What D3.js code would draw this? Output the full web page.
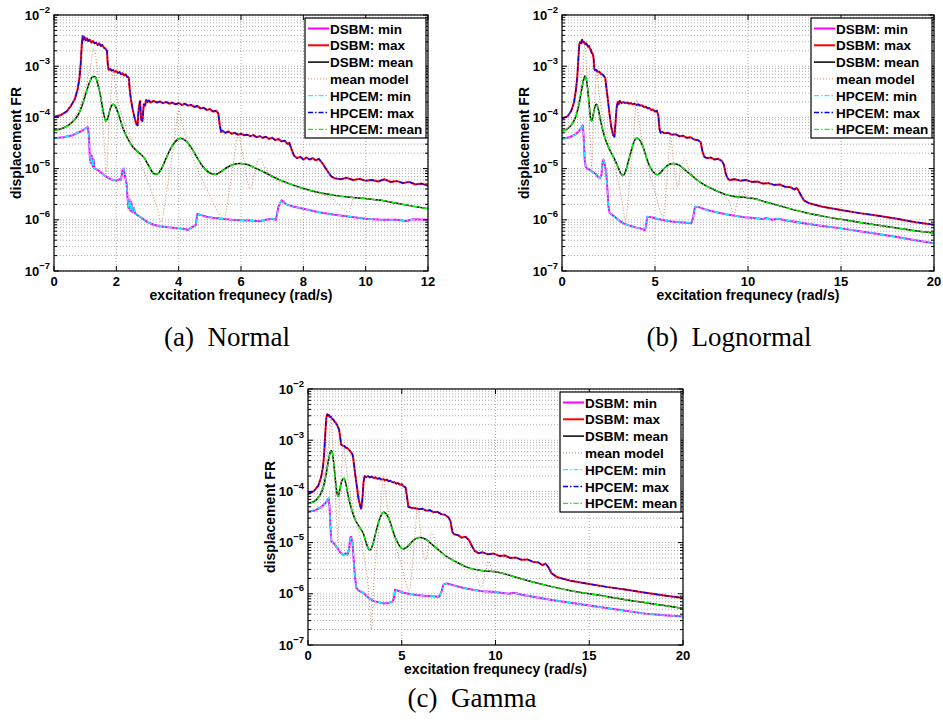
<!DOCTYPE html>
<html>
<head>
<meta charset="utf-8">
<title>Displacement FR: DSBM vs HPCEM</title>
<script src="https://d3js.org/d3.v7.min.js"></script>
<style>
  body { margin: 0; background: #fff; }
  svg text { font-family: "Liberation Sans", Arial, sans-serif; font-weight: bold; fill: #000; }
  svg text.caption { font-family: "Liberation Serif", "Times New Roman", serif; font-weight: normal; }
</style>
</head>
<body>
<svg id="fig" width="943" height="725"></svg>
<script>
// ---- data: [frequency (rad/s), displacement FR] ----
var legendLabels = ["DSBM: min", "DSBM: max", "DSBM: mean", "mean model", "HPCEM: min", "HPCEM: max", "HPCEM: mean"];
var yTickExp = [-7, -6, -5, -4, -3, -2];

// (a) Normal
var normalMin = [[0,3.9e-5],[0.3,4.1e-5],[0.6,4.5e-5],[0.85,5.3e-5],[1.0,6.0e-5],[1.08,6.5e-5],[1.12,4.5e-5],[1.15,1.6e-5],[1.18,1.3e-5],[1.21,1.8e-5],[1.24,1.1e-5],[1.27,1.5e-5],[1.3,1.0e-5],[1.4,9.5e-6],[1.5,8.5e-6],[1.6,7.5e-6],[1.7,6.8e-6],[1.8,6.3e-6],[1.9,6.0e-6],[2.0,5.8e-6],[2.1,6.2e-6],[2.15,6.0e-6],[2.2,9.5e-6],[2.24,1.0e-5],[2.28,7e-6],[2.33,5e-6],[2.36,2.6e-6],[2.39,1.7e-6],[2.42,2.5e-6],[2.45,1.5e-6],[2.48,2.2e-6],[2.52,1.4e-6],[2.56,1.7e-6],[2.6,1.35e-6],[2.7,1.2e-6],[2.8,1.1e-6],[2.9,1.0e-6],[3.0,9.0e-7],[3.2,8.0e-7],[3.4,7.5e-7],[3.6,7.2e-7],[3.8,7.0e-7],[4.0,6.8e-7],[4.2,6.6e-7],[4.3,6.3e-7],[4.4,7.0e-7],[4.5,7.5e-7],[4.55,8e-7],[4.6,1.3e-6],[4.7,1.25e-6],[4.9,1.15e-6],[5.1,1.1e-6],[5.4,1.05e-6],[5.7,1.0e-6],[6.0,9.8e-7],[6.3,9.7e-7],[6.6,9.4e-7],[6.8,1.0e-6],[7.0,1.05e-6],[7.12,1.0e-6],[7.2,1.8e-6],[7.3,2.4e-6],[7.45,2.0e-6],[7.7,1.8e-6],[8.0,1.65e-6],[8.5,1.4e-6],[9.0,1.25e-6],[9.5,1.15e-6],[10.0,1.05e-6],[10.5,1.0e-6],[11.0,1.0e-6],[11.3,9.5e-7],[11.5,1.02e-6],[12.0,1.0e-6]];
var normalMax = [[0,1.02e-4],[0.2,1.1e-4],[0.4,1.3e-4],[0.55,1.7e-4],[0.67,2.3e-4],[0.76,3.6e-4],[0.82,6e-4],[0.86,1.2e-3],[0.89,2.6e-3],[0.92,3.9e-3],[0.95,3.3e-3],[0.98,3.7e-3],[1.02,3.2e-3],[1.06,3.5e-3],[1.1,3.1e-3],[1.15,3.3e-3],[1.2,2.9e-3],[1.25,3.1e-3],[1.3,2.8e-3],[1.35,2.9e-3],[1.4,2.6e-3],[1.45,2.8e-3],[1.5,2.5e-3],[1.55,2.6e-3],[1.6,2.3e-3],[1.65,2.2e-3],[1.7,2.0e-3],[1.72,1.2e-3],[1.75,8.5e-4],[1.8,8.8e-4],[1.85,8.2e-4],[1.9,8.4e-4],[1.95,7.8e-4],[2.0,8.0e-4],[2.05,7.4e-4],[2.1,7.7e-4],[2.15,7.0e-4],[2.2,7.3e-4],[2.25,6.6e-4],[2.3,6.9e-4],[2.35,6.2e-4],[2.4,6.0e-4],[2.43,3.5e-4],[2.47,2.2e-4],[2.52,1.5e-4],[2.58,1.0e-4],[2.64,7.5e-5],[2.68,7e-5],[2.72,1.5e-4],[2.76,2.1e-4],[2.8,9e-5],[2.84,8.5e-5],[2.88,1.8e-4],[2.92,1.7e-4],[2.96,2.2e-4],[3.0,2.0e-4],[3.05,2.15e-4],[3.1,1.95e-4],[3.2,2.1e-4],[3.3,1.95e-4],[3.4,2.05e-4],[3.5,1.9e-4],[3.6,2.0e-4],[3.7,1.85e-4],[3.8,1.95e-4],[3.9,1.8e-4],[4.0,1.9e-4],[4.1,1.75e-4],[4.2,1.85e-4],[4.3,1.7e-4],[4.4,1.75e-4],[4.5,1.6e-4],[4.6,1.68e-4],[4.7,1.5e-4],[4.8,1.55e-4],[4.9,1.4e-4],[5.0,1.45e-4],[5.1,1.3e-4],[5.2,1.35e-4],[5.27,1.2e-4],[5.32,7e-5],[5.36,5.2e-5],[5.4,5.5e-5],[5.5,5.0e-5],[5.6,5.3e-5],[5.7,4.8e-5],[5.8,5.0e-5],[5.9,4.6e-5],[6.0,4.8e-5],[6.1,4.5e-5],[6.2,4.6e-5],[6.3,4.3e-5],[6.4,4.5e-5],[6.5,4.1e-5],[6.6,4.3e-5],[6.7,4.0e-5],[6.8,4.2e-5],[6.9,3.8e-5],[7.0,4.0e-5],[7.1,3.6e-5],[7.2,3.8e-5],[7.3,3.4e-5],[7.4,3.5e-5],[7.5,3.0e-5],[7.55,3.2e-5],[7.62,2.4e-5],[7.7,1.8e-5],[7.8,1.6e-5],[7.9,1.7e-5],[8.0,1.5e-5],[8.1,1.65e-5],[8.2,1.5e-5],[8.3,1.6e-5],[8.4,1.45e-5],[8.5,1.55e-5],[8.6,1.3e-5],[8.7,1.05e-5],[8.8,8.5e-6],[8.9,7e-6],[9.0,6.5e-6],[9.2,6.2e-6],[9.4,6.6e-6],[9.6,6.0e-6],[9.8,6.3e-6],[10.0,5.8e-6],[10.2,6.0e-6],[10.4,5.6e-6],[10.6,6.2e-6],[10.8,5.5e-6],[11.0,5.7e-6],[11.2,5.2e-6],[11.4,5.5e-6],[11.6,4.9e-6],[11.8,5.1e-6],[12.0,4.6e-6]];
var normalMean = [[0,5.6e-5],[0.3,6.2e-5],[0.6,8.2e-5],[0.8,1.2e-4],[0.95,2.1e-4],[1.05,3.3e-4],[1.15,5.0e-4],[1.25,6.3e-4],[1.32,6.2e-4],[1.4,4.6e-4],[1.5,2.5e-4],[1.58,1.3e-4],[1.66,8.5e-5],[1.72,9.5e-5],[1.8,1.45e-4],[1.9,1.8e-4],[1.98,1.6e-4],[2.08,1.1e-4],[2.2,6.5e-5],[2.35,4.0e-5],[2.5,2.8e-5],[2.7,2.1e-5],[2.9,1.6e-5],[3.05,1.1e-5],[3.2,8.0e-6],[3.3,7.8e-6],[3.45,1.0e-5],[3.6,1.6e-5],[3.75,2.5e-5],[3.9,3.4e-5],[4.05,3.9e-5],[4.2,3.6e-5],[4.4,2.6e-5],[4.6,1.6e-5],[4.8,1.05e-5],[5.0,8.2e-6],[5.18,7.7e-6],[5.35,8.6e-6],[5.55,1.05e-5],[5.75,1.2e-5],[5.95,1.26e-5],[6.2,1.2e-5],[6.5,1.0e-5],[6.8,8.2e-6],[7.1,6.6e-6],[7.5,5.2e-6],[8.0,4.1e-6],[8.5,3.4e-6],[9.0,3.0e-6],[9.5,2.75e-6],[10.0,2.6e-6],[10.5,2.4e-6],[11.0,2.1e-6],[11.5,1.85e-6],[12.0,1.65e-6]];
var normalModel = [[0,5.5e-5],[0.5,7.5e-5],[0.8,1.5e-4],[1.0,3.5e-4],[1.15,9e-4],[1.28,2.2e-3],[1.4,8e-4],[1.5,2e-4],[1.6,4e-5],[1.68,8e-6],[1.75,5e-5],[1.82,2.5e-4],[1.9,8e-4],[2.0,3e-4],[2.2,1e-4],[2.5,3.5e-5],[2.8,1.2e-5],[3.1,4e-6],[3.3,1.8e-6],[3.45,9e-7],[3.55,2e-6],[3.7,8e-6],[3.85,3e-5],[4.0,1.4e-4],[4.1,8e-5],[4.3,3e-5],[4.6,1e-5],[5.0,3e-6],[5.3,1.3e-6],[5.45,1.0e-6],[5.6,3e-6],[5.75,1.2e-5],[5.9,4.5e-5],[6.05,2e-5],[6.2,6e-6],[6.3,4e-6],[6.45,9e-6],[6.6,1.6e-5],[6.75,1.1e-5],[7.0,6.5e-6],[7.5,5e-6],[8.0,4e-6],[8.5,3.3e-6],[9.0,2.4e-6],[9.3,1.6e-6],[9.45,1.4e-6],[9.6,2.6e-6],[9.8,2.7e-6],[10.0,2.6e-6],[10.5,2.4e-6],[11.0,2.1e-6],[11.5,1.85e-6],[12.0,1.65e-6]];

// (b) Lognormal
var lognormalMin = [[0,3.8e-5],[0.4,4.1e-5],[0.7,4.6e-5],[0.9,5.4e-5],[1.05,6.3e-5],[1.12,7e-5],[1.17,4e-5],[1.22,1.5e-5],[1.27,1.1e-5],[1.35,1.0e-5],[1.5,9.5e-6],[1.65,8.5e-6],[1.8,8e-6],[1.95,6.8e-6],[2.05,6.5e-6],[2.12,7.5e-6],[2.18,1.35e-5],[2.23,1.5e-5],[2.3,1.2e-5],[2.38,8e-6],[2.44,4e-6],[2.5,1.8e-6],[2.56,1.35e-6],[2.7,1.25e-6],[2.9,1.1e-6],[3.1,9.5e-7],[3.3,8.5e-7],[3.6,7.8e-7],[3.9,7.2e-7],[4.2,6.8e-7],[4.45,6.3e-7],[4.52,7.5e-7],[4.58,1.15e-6],[4.8,1.12e-6],[5.1,1.05e-6],[5.5,9.8e-7],[5.9,9.3e-7],[6.3,9.0e-7],[6.7,8.8e-7],[6.95,8.6e-7],[7.05,1.1e-6],[7.15,1.8e-6],[7.4,1.75e-6],[7.8,1.55e-6],[8.3,1.4e-6],[8.8,1.28e-6],[9.3,1.2e-6],[9.8,1.12e-6],[10.3,1.08e-6],[10.8,1.04e-6],[11.0,1.08e-6],[11.3,1.0e-6],[11.6,1.05e-6],[12,9.8e-7],[13,8.6e-7],[14,7.6e-7],[15,6.8e-7],[16,6e-7],[17,5.3e-7],[18,4.6e-7],[19,4.0e-7],[20,3.5e-7]];
var lognormalMax = [[0,9.5e-5],[0.3,1.05e-4],[0.5,1.35e-4],[0.65,2e-4],[0.75,3.5e-4],[0.82,6e-4],[0.88,1.4e-3],[0.93,2.7e-3],[0.98,3.0e-3],[1.03,2.8e-3],[1.08,3.3e-3],[1.13,2.9e-3],[1.18,3.0e-3],[1.25,2.7e-3],[1.3,2.8e-3],[1.4,2.4e-3],[1.45,2.5e-3],[1.5,2.2e-3],[1.55,2.1e-3],[1.6,1.8e-3],[1.65,1.8e-3],[1.7,1.4e-3],[1.73,9e-4],[1.78,8.3e-4],[1.85,8.5e-4],[1.9,7.8e-4],[2.0,7.8e-4],[2.1,7.0e-4],[2.2,6.8e-4],[2.28,6.2e-4],[2.33,5.8e-4],[2.38,4e-4],[2.45,2.5e-4],[2.55,1.2e-4],[2.65,6.5e-5],[2.75,4.5e-5],[2.82,4.2e-5],[2.88,8e-5],[2.94,1.6e-4],[3.0,2.0e-4],[3.05,1.8e-4],[3.1,2.1e-4],[3.2,1.9e-4],[3.3,2.0e-4],[3.4,1.9e-4],[3.5,1.95e-4],[3.6,1.85e-4],[3.7,1.9e-4],[3.8,1.8e-4],[3.9,1.85e-4],[4.0,1.75e-4],[4.1,1.8e-4],[4.2,1.7e-4],[4.3,1.72e-4],[4.4,1.6e-4],[4.5,1.62e-4],[4.6,1.5e-4],[4.7,1.52e-4],[4.8,1.4e-4],[4.9,1.42e-4],[5.0,1.3e-4],[5.1,1.35e-4],[5.18,1.1e-4],[5.24,6e-5],[5.3,5e-5],[5.4,5.2e-5],[5.5,4.9e-5],[5.7,5.0e-5],[5.9,4.6e-5],[6.1,4.7e-5],[6.3,4.3e-5],[6.5,4.4e-5],[6.7,4.0e-5],[6.9,4.1e-5],[7.1,3.7e-5],[7.3,3.6e-5],[7.45,3.3e-5],[7.55,2.2e-5],[7.65,1.7e-5],[7.8,1.6e-5],[8.0,1.65e-5],[8.2,1.5e-5],[8.4,1.55e-5],[8.6,1.4e-5],[8.7,1.2e-5],[8.8,8e-6],[8.9,6.5e-6],[9.0,6.0e-6],[9.3,6.2e-6],[9.6,5.8e-6],[9.9,6.0e-6],[10.2,5.5e-6],[10.5,5.6e-6],[10.8,5.1e-6],[11.1,5.2e-6],[11.4,4.8e-6],[11.7,4.9e-6],[12.0,4.4e-6],[12.3,4.3e-6],[12.5,3.9e-6],[12.6,4.2e-6],[12.7,3.8e-6],[12.85,3.0e-6],[13.0,2.4e-6],[13.3,2.1e-6],[14.0,1.8e-6],[15.0,1.55e-6],[16.0,1.35e-6],[17.0,1.2e-6],[18.0,1.05e-6],[19.0,9e-7],[20.0,8e-7]];
var lognormalMean = [[0,5.4e-5],[0.3,6e-5],[0.6,8e-5],[0.8,1.2e-4],[0.95,2.1e-4],[1.05,3.4e-4],[1.15,5.2e-4],[1.23,6.4e-4],[1.3,5.8e-4],[1.38,3.6e-4],[1.46,1.8e-4],[1.53,1.0e-4],[1.6,8.5e-5],[1.68,1.15e-4],[1.78,1.65e-4],[1.86,1.8e-4],[1.95,1.45e-4],[2.05,9.5e-5],[2.2,5.5e-5],[2.4,3.2e-5],[2.6,2.2e-5],[2.8,1.6e-5],[3.0,1.1e-5],[3.15,8.2e-6],[3.28,7.3e-6],[3.4,8.5e-6],[3.55,1.3e-5],[3.7,2.1e-5],[3.85,3.2e-5],[4.0,3.9e-5],[4.15,3.7e-5],[4.35,2.7e-5],[4.55,1.6e-5],[4.75,1.05e-5],[4.95,8.3e-6],[5.12,7.6e-6],[5.3,8.4e-6],[5.5,1.02e-5],[5.75,1.2e-5],[6.0,1.26e-5],[6.3,1.17e-5],[6.6,9.5e-6],[7.0,7.2e-6],[7.4,5.5e-6],[7.8,4.5e-6],[8.3,3.7e-6],[8.8,3.1e-6],[9.3,2.85e-6],[9.8,2.75e-6],[10.3,2.6e-6],[11,2.2e-6],[12,1.75e-6],[13,1.4e-6],[14,1.18e-6],[15,1.02e-6],[16,8.9e-7],[17,7.8e-7],[18,6.9e-7],[19,6.1e-7],[20,5.5e-7]];
var lognormalModel = [[0,5.3e-5],[0.5,7.5e-5],[0.8,1.5e-4],[1.0,4e-4],[1.12,1e-3],[1.23,2.6e-3],[1.32,1e-3],[1.42,2e-4],[1.52,4e-5],[1.6,1e-5],[1.68,6e-5],[1.78,3e-4],[1.87,8.5e-4],[1.97,3.5e-4],[2.2,1e-4],[2.5,3.5e-5],[2.8,1.3e-5],[3.1,4e-6],[3.3,1.6e-6],[3.42,9e-7],[3.55,2.5e-6],[3.7,1e-5],[3.85,4e-5],[4.0,2.2e-4],[4.12,9e-5],[4.35,3e-5],[4.7,8e-6],[5.0,3.5e-6],[5.3,1.4e-6],[5.45,1.1e-6],[5.6,4e-6],[5.72,1.5e-5],[5.82,4.5e-5],[5.95,2e-5],[6.1,7e-6],[6.22,4.5e-6],[6.4,1e-5],[6.6,1.6e-5],[6.8,1.05e-5],[7.1,7e-6],[7.5,5.2e-6],[8.0,4.2e-6],[8.5,3.4e-6],[9.0,2.2e-6],[9.25,1.35e-6],[9.45,2.4e-6],[9.65,4.2e-6],[9.85,3e-6],[10.3,2.6e-6],[11,2.2e-6],[12,1.75e-6],[13,1.4e-6],[14,1.18e-6],[15,1.02e-6],[16,8.9e-7],[17,7.8e-7],[18,6.9e-7],[19,6.1e-7],[20,5.5e-7]];

// (c) Gamma
var gammaMin = [[0,4e-5],[0.4,4.3e-5],[0.7,4.9e-5],[0.95,6e-5],[1.1,7.3e-5],[1.15,5e-5],[1.2,2e-5],[1.25,1.05e-5],[1.35,1.0e-5],[1.5,8.5e-6],[1.65,7e-6],[1.8,6e-6],[1.9,5.7e-6],[2.0,6.2e-6],[2.1,5.8e-6],[2.18,7e-6],[2.25,1.2e-5],[2.3,1.3e-5],[2.37,1.0e-5],[2.43,5e-6],[2.5,2.2e-6],[2.58,1.3e-6],[2.7,1.15e-6],[2.95,1.05e-6],[3.2,8.5e-7],[3.5,7.2e-7],[3.8,6.8e-7],[4.0,6.5e-7],[4.3,6.6e-7],[4.5,7e-7],[4.58,8e-7],[4.64,1.2e-6],[4.8,1.15e-6],[5.1,1.05e-6],[5.5,9.8e-7],[5.8,9.5e-7],[6.2,9.2e-7],[6.6,9e-7],[7.0,8.8e-7],[7.12,1.1e-6],[7.22,1.5e-6],[7.4,1.6e-6],[7.8,1.45e-6],[8.3,1.3e-6],[8.8,1.2e-6],[9.3,1.12e-6],[9.8,1.1e-6],[10.3,1.05e-6],[10.7,1.0e-6],[11.0,1.05e-6],[11.4,9.6e-7],[12,8.8e-7],[13,7.6e-7],[14,6.7e-7],[15,5.9e-7],[16,5.2e-7],[17,4.6e-7],[18,4.1e-7],[19,3.8e-7],[20,3.6e-7]];
var gammaMax = [[0,9.1e-5],[0.3,1.0e-4],[0.55,1.3e-4],[0.7,1.9e-4],[0.8,3e-4],[0.87,6e-4],[0.93,1.5e-3],[0.98,2.8e-3],[1.02,3.2e-3],[1.07,3.0e-3],[1.12,3.1e-3],[1.17,2.8e-3],[1.22,2.9e-3],[1.3,2.6e-3],[1.36,2.5e-3],[1.42,2.3e-3],[1.48,2.2e-3],[1.54,2.0e-3],[1.6,1.8e-3],[1.66,1.6e-3],[1.72,1.1e-3],[1.77,8.2e-4],[1.85,7.8e-4],[1.92,7.8e-4],[2.0,7.2e-4],[2.1,7.0e-4],[2.2,6.4e-4],[2.3,5.8e-4],[2.38,5.2e-4],[2.42,4.2e-4],[2.5,2.4e-4],[2.6,1.3e-4],[2.7,7e-5],[2.8,5e-5],[2.84,4.6e-5],[2.9,7e-5],[2.96,1.5e-4],[3.02,2.0e-4],[3.1,1.9e-4],[3.2,2.0e-4],[3.3,1.88e-4],[3.4,1.95e-4],[3.5,1.82e-4],[3.6,1.88e-4],[3.7,1.76e-4],[3.8,1.82e-4],[3.9,1.7e-4],[4.0,1.75e-4],[4.1,1.65e-4],[4.2,1.7e-4],[4.3,1.58e-4],[4.4,1.62e-4],[4.5,1.5e-4],[4.6,1.52e-4],[4.7,1.42e-4],[4.8,1.45e-4],[4.9,1.35e-4],[5.0,1.38e-4],[5.1,1.25e-4],[5.2,1.2e-4],[5.28,8e-5],[5.35,5e-5],[5.5,4.8e-5],[5.7,4.7e-5],[5.9,4.5e-5],[6.1,4.6e-5],[6.3,4.2e-5],[6.5,4.3e-5],[6.7,3.9e-5],[6.9,4.0e-5],[7.1,3.6e-5],[7.3,3.5e-5],[7.5,3.1e-5],[7.6,2.6e-5],[7.7,1.6e-5],[7.8,1.45e-5],[8.0,1.4e-5],[8.2,1.25e-5],[8.4,1.3e-5],[8.6,1.1e-5],[8.75,8.5e-6],[8.9,6.8e-6],[9.1,6.2e-6],[9.3,6.5e-6],[9.6,5.9e-6],[9.9,6.1e-6],[10.2,5.5e-6],[10.5,5.6e-6],[10.8,5.0e-6],[11.1,5.1e-6],[11.4,4.6e-6],[11.7,4.7e-6],[12.0,4.2e-6],[12.3,4.1e-6],[12.5,3.6e-6],[12.65,3.9e-6],[12.8,3.4e-6],[13.0,2.5e-6],[13.3,2.1e-6],[14,1.8e-6],[15,1.55e-6],[16,1.35e-6],[17,1.2e-6],[18,1.05e-6],[19,9.3e-7],[20,8.3e-7]];
var gammaMean = [[0,5.8e-5],[0.3,6.3e-5],[0.6,8e-5],[0.8,1.15e-4],[0.95,2e-4],[1.05,3.3e-4],[1.15,5.2e-4],[1.23,6.3e-4],[1.3,5.6e-4],[1.38,3.4e-4],[1.46,1.7e-4],[1.54,9.5e-5],[1.62,8e-5],[1.7,1.1e-4],[1.8,1.6e-4],[1.92,1.8e-4],[2.02,1.4e-4],[2.15,8e-5],[2.3,4.8e-5],[2.5,2.9e-5],[2.75,2e-5],[2.95,1.5e-5],[3.1,1.0e-5],[3.22,7.6e-6],[3.32,7.2e-6],[3.45,9e-6],[3.6,1.5e-5],[3.75,2.4e-5],[3.9,3.4e-5],[4.02,3.9e-5],[4.15,3.7e-5],[4.35,2.7e-5],[4.55,1.6e-5],[4.75,1.05e-5],[4.95,8e-6],[5.1,7.5e-6],[5.3,8.3e-6],[5.5,1.0e-5],[5.75,1.2e-5],[5.97,1.26e-5],[6.3,1.15e-5],[6.6,9.3e-6],[7.0,7e-6],[7.4,5.3e-6],[7.9,4.2e-6],[8.4,3.4e-6],[8.9,3.0e-6],[9.4,2.8e-6],[10.0,2.7e-6],[10.5,2.45e-6],[11,2.15e-6],[12,1.7e-6],[13,1.38e-6],[14,1.15e-6],[15,1.0e-6],[16,8.8e-7],[17,7.6e-7],[18,6.7e-7],[19,5.9e-7],[20,5.2e-7]];
var gammaModel = [[0,5.7e-5],[0.5,7.7e-5],[0.8,1.5e-4],[1.0,4e-4],[1.12,1e-3],[1.22,2.8e-3],[1.3,1.2e-3],[1.4,2.5e-4],[1.5,5e-5],[1.6,1e-5],[1.68,6e-5],[1.8,3e-4],[1.92,8e-4],[2.02,3.5e-4],[2.2,1.1e-4],[2.5,3.5e-5],[2.8,1.2e-5],[3.05,4e-6],[3.25,1e-6],[3.38,2e-7],[3.5,1.5e-6],[3.7,1e-5],[3.88,5e-5],[4.02,2e-4],[4.15,8e-5],[4.4,2.5e-5],[4.7,8e-6],[5.0,3.5e-6],[5.25,1.5e-6],[5.4,1.1e-6],[5.55,3e-6],[5.7,1.4e-5],[5.85,5e-5],[5.98,2e-5],[6.15,6e-6],[6.28,4.5e-6],[6.45,1e-5],[6.62,1.6e-5],[6.8,1e-5],[7.1,6.8e-6],[7.5,5e-6],[8,4e-6],[8.5,3.3e-6],[9.0,2.2e-6],[9.25,1.3e-6],[9.45,2.5e-6],[9.62,4.3e-6],[9.85,2.9e-6],[10.3,2.55e-6],[11,2.15e-6],[12,1.7e-6],[13,1.38e-6],[14,1.15e-6],[15,1.0e-6],[16,8.8e-7],[17,7.6e-7],[18,6.7e-7],[19,5.9e-7],[20,5.2e-7]];

// ---- styles and layout ----
var seriesStyle = [
  {color: "#ff00ff", dash: null, width: 2},
  {color: "#ff0000", dash: null, width: 2},
  {color: "#000000", dash: null, width: 1.5},
  {color: "#c98a6c", dash: "1,2", width: 1},
  {color: "#00ffff", dash: "5,2,1.5,2", width: 1.3},
  {color: "#0000ff", dash: "5,2,1.5,2", width: 1.3},
  {color: "#00ff00", dash: "5,2,1.5,2", width: 1.3}
];

var panels = [
  {id: "a", left: 54, top: 15, width: 374, height: 256, xMax: 12, xTicks: [0, 2, 4, 6, 8, 10, 12],
   // HPCEM curves lie on top of the DSBM ones in the figure
   series: [normalMin, normalMax, normalMean, normalModel, normalMin, normalMax, normalMean],
   caption: "(a)\u2002Normal", capX: 227, capY: 346},
  {id: "b", left: 562, top: 15, width: 372, height: 256, xMax: 20, xTicks: [0, 5, 10, 15, 20],
   series: [lognormalMin, lognormalMax, lognormalMean, lognormalModel, lognormalMin, lognormalMax, lognormalMean],
   caption: "(b)\u2002Lognormal", capX: 729, capY: 346},
  {id: "c", left: 308, top: 389, width: 375, height: 256, xMax: 20, xTicks: [0, 5, 10, 15, 20],
   series: [gammaMin, gammaMax, gammaMean, gammaModel, gammaMin, gammaMax, gammaMean],
   caption: "(c)\u2002Gamma", capX: 472, capY: 707}
];

var svg = d3.select("#fig");

panels.forEach(function (p) {
  var x = d3.scaleLinear().domain([0, p.xMax]).range([p.left, p.left + p.width]);
  var y = d3.scaleLog().domain([1e-7, 1e-2]).range([p.top + p.height, p.top]);
  var g = svg.append("g").attr("class", "panel-" + p.id);

  g.append("clipPath").attr("id", "clip-" + p.id)
    .append("rect").attr("x", p.left).attr("y", p.top).attr("width", p.width).attr("height", p.height);

  // grid
  var grid = g.append("g").attr("stroke", "#9a9a9a").attr("stroke-width", 0.8).attr("stroke-dasharray", "1,2");
  grid.selectAll("line.vx").data(p.xTicks).enter().append("line")
    .attr("x1", function (d) { return x(d); }).attr("x2", function (d) { return x(d); })
    .attr("y1", p.top).attr("y2", p.top + p.height);
  grid.selectAll("line.hy").data(y.ticks()).enter().append("line")
    .attr("x1", p.left).attr("x2", p.left + p.width)
    .attr("y1", function (d) { return y(d); }).attr("y2", function (d) { return y(d); });

  // curves
  var plot = g.append("g").attr("clip-path", "url(#clip-" + p.id + ")");
  p.series.forEach(function (s, i) {
    var st = seriesStyle[i];
    var smooth = (i === 2 || i === 3 || i === 6);
    var line = d3.line()
      .x(function (d) { return x(d[0]); })
      .y(function (d) { return y(d[1]); })
      .curve(smooth ? d3.curveMonotoneX : d3.curveLinear);
    plot.append("path")
      .datum(s)
      .attr("d", line)
      .attr("fill", "none")
      .attr("stroke", st.color)
      .attr("stroke-width", st.width)
      .attr("stroke-linejoin", "round")
      .attr("stroke-dasharray", st.dash);
  });

  // box
  g.append("rect").attr("x", p.left).attr("y", p.top).attr("width", p.width).attr("height", p.height)
    .attr("fill", "none").attr("stroke", "#000").attr("stroke-width", 1.2);

  // ticks (inside, both sides)
  var ticks = g.append("g").attr("stroke", "#000").attr("stroke-width", 1);
  p.xTicks.forEach(function (t) {
    ticks.append("line").attr("x1", x(t)).attr("x2", x(t)).attr("y1", p.top + p.height).attr("y2", p.top + p.height - 5);
    ticks.append("line").attr("x1", x(t)).attr("x2", x(t)).attr("y1", p.top).attr("y2", p.top + 5);
  });
  y.ticks().forEach(function (t) {
    var major = Math.abs(Math.log10(t) - Math.round(Math.log10(t))) < 1e-6;
    var len = major ? 5 : 3;
    ticks.append("line").attr("x1", p.left).attr("x2", p.left + len).attr("y1", y(t)).attr("y2", y(t));
    ticks.append("line").attr("x1", p.left + p.width).attr("x2", p.left + p.width - len).attr("y1", y(t)).attr("y2", y(t));
  });

  // tick labels
  g.selectAll("text.xt").data(p.xTicks).enter().append("text")
    .attr("x", function (d) { return x(d); })
    .attr("y", p.top + p.height + 14.5)
    .attr("text-anchor", "middle")
    .attr("font-size", 13)
    .text(function (d) { return d; });

  yTickExp.forEach(function (e) {
    var t = g.append("text")
      .attr("x", p.left - 4)
      .attr("y", y(Math.pow(10, e)) + 4.5)
      .attr("text-anchor", "end")
      .attr("font-size", 13);
    t.append("tspan").text("10");
    t.append("tspan").attr("font-size", 9.5).attr("dy", -7).text("\u2212" + Math.abs(e));
  });

  // axis labels
  g.append("text")
    .attr("x", p.left + p.width / 2)
    .attr("y", p.top + p.height + 29)
    .attr("text-anchor", "middle")
    .attr("font-size", 14)
    .text("excitation frequnecy (rad/s)");
  g.append("text")
    .attr("transform", "translate(" + (p.left - 33) + "," + (p.top + p.height / 2) + ") rotate(-90)")
    .attr("text-anchor", "middle")
    .attr("font-size", 14)
    .text("displacement FR");

  // legend
  var lw = 121, lh = 120;
  var lx = p.left + p.width - 2 - lw, ly = p.top + 3;
  var leg = g.append("g");
  leg.append("rect").attr("x", lx).attr("y", ly).attr("width", lw).attr("height", lh)
    .attr("fill", "#fff").attr("stroke", "#000").attr("stroke-width", 1.2);
  legendLabels.forEach(function (lab, i) {
    var st = seriesStyle[i];
    var cy = ly + 10.5 + i * 16.8;
    leg.append("line").attr("x1", lx + 3).attr("x2", lx + 24).attr("y1", cy).attr("y2", cy)
      .attr("stroke", st.color).attr("stroke-width", st.width).attr("stroke-dasharray", st.dash);
    leg.append("text").attr("x", lx + 25).attr("y", cy + 5).attr("font-size", 13.5).text(lab);
  });

  // caption
  svg.append("text").attr("class", "caption")
    .attr("x", p.capX).attr("y", p.capY)
    .attr("text-anchor", "middle")
    .attr("font-size", 27)
    .text(p.caption);
});
</script>
</body>
</html>
